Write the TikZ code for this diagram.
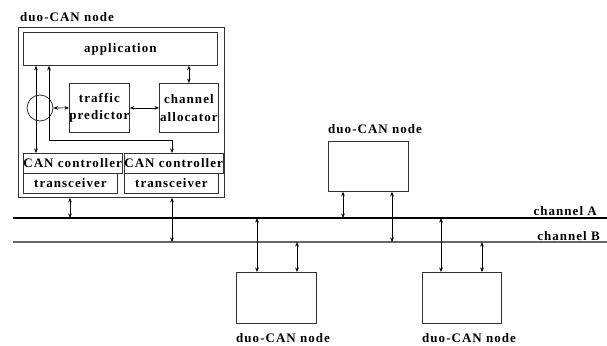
\documentclass[tikz,border=0pt]{standalone}
\usepackage{fontspec}
\setmainfont{Liberation Serif}[LetterSpace=8]
\usetikzlibrary{arrows.meta}
\begin{document}
\begin{tikzpicture}[x=1pt,y=-1pt,
  txt/.style={font=\bfseries\fontsize{13}{17.5}\selectfont, inner sep=0pt},
  box/.style={draw=black!80, line width=0.8pt, inner sep=0pt, txt},
  biarrow/.style={{Stealth[length=4.5pt,width=3.6pt]}-{Stealth[length=4.5pt,width=3.6pt]}, line width=0.6pt}]
\useasboundingbox (0,0) rectangle (607,345);
% left detailed node
\node[txt, anchor=west] (title) at (20,17) {duo-CAN node};
\node[draw=black!80, line width=0.8pt, minimum width=206pt, minimum height=170pt, anchor=north west, inner sep=0pt] (outer) at (18,27) {};
\node[box, minimum width=194pt, minimum height=33pt, anchor=north west] (app) at (23,32) {application};
\node[box, align=center, minimum width=60pt, minimum height=49pt, anchor=north west] (tp) at (69,83) {traffic\\predictor};
\node[box, align=center, minimum width=59pt, minimum height=49pt, anchor=north west] (ca) at (159,83) {channel\\allocator};
\node[draw=black!80, line width=0.8pt, circle, minimum size=26pt, inner sep=0pt] (circ) at (40,108) {};
\node[box, minimum width=94pt, minimum height=20pt, anchor=north west] (cc1) at (23,153) {CAN controller};
\node[box, minimum width=94pt, minimum height=20pt, anchor=north west] (tr1) at (23,173) {transceiver};
\node[box, minimum width=94pt, minimum height=20pt, anchor=north west] (cc2) at (124,153) {CAN controller};
\node[box, minimum width=94pt, minimum height=20pt, anchor=north west] (tr2) at (124,173) {transceiver};
% internal connectors
\draw[biarrow] (app.south -| ca) -- (ca.north);
\draw[biarrow] (circ.east) -- (tp.west);
\draw[biarrow] (tp.east) -- (ca.west);
\coordinate (l1) at (36,100);
\draw[biarrow] (app.south -| l1) -- (cc1.north -| l1);
\coordinate (l2) at (49,140);
\coordinate (l3) at (172,140);
\draw[biarrow] (app.south -| l2) -- (l2) -- (l3) -- (cc2.north -| l3);
% channels
\coordinate (Aw) at (13,218);
\coordinate (Ae) at (607,218);
\coordinate (Bw) at (13,242);
\coordinate (Be) at (607,242);
\draw[line width=2.2pt] (Aw) -- (Ae);
\draw[line width=1.6pt, black!60] (Bw) -- (Be);
\node[txt, anchor=east] (labA) at (597,211) {channel A};
\node[txt, anchor=east] (labB) at (600,236) {channel B};
% connectors from left node
\coordinate (oa) at (70,218);
\coordinate (ob) at (172,242);
\draw[biarrow] (outer.south -| oa) -- (oa);
\draw[biarrow] (outer.south -| ob) -- (ob);
% top node
\node[box, minimum width=80pt, minimum height=50pt, anchor=north west] (n1) at (328,141) {};
\node[txt, anchor=west] (n1l) at (328,129) {duo-CAN node};
\coordinate (n1a) at (343,218);
\coordinate (n1b) at (392,242);
\draw[biarrow] (n1.south -| n1a) -- (n1a);
\draw[biarrow] (n1.south -| n1b) -- (n1b);
% bottom left node
\node[box, minimum width=80pt, minimum height=51pt, anchor=north west] (n2) at (236,272) {};
\node[txt, anchor=west] (n2l) at (236,338) {duo-CAN node};
\coordinate (n2a) at (257,218);
\coordinate (n2b) at (297,242);
\draw[biarrow] (n2a) -- (n2.north -| n2a);
\draw[biarrow] (n2b) -- (n2.north -| n2b);
% bottom right node
\node[box, minimum width=79pt, minimum height=51pt, anchor=north west] (n3) at (422,272) {};
\node[txt, anchor=west] (n3l) at (422,338) {duo-CAN node};
\coordinate (n3a) at (441,218);
\coordinate (n3b) at (482,242);
\draw[biarrow] (n3a) -- (n3.north -| n3a);
\draw[biarrow] (n3b) -- (n3.north -| n3b);
\end{tikzpicture}
\end{document}
